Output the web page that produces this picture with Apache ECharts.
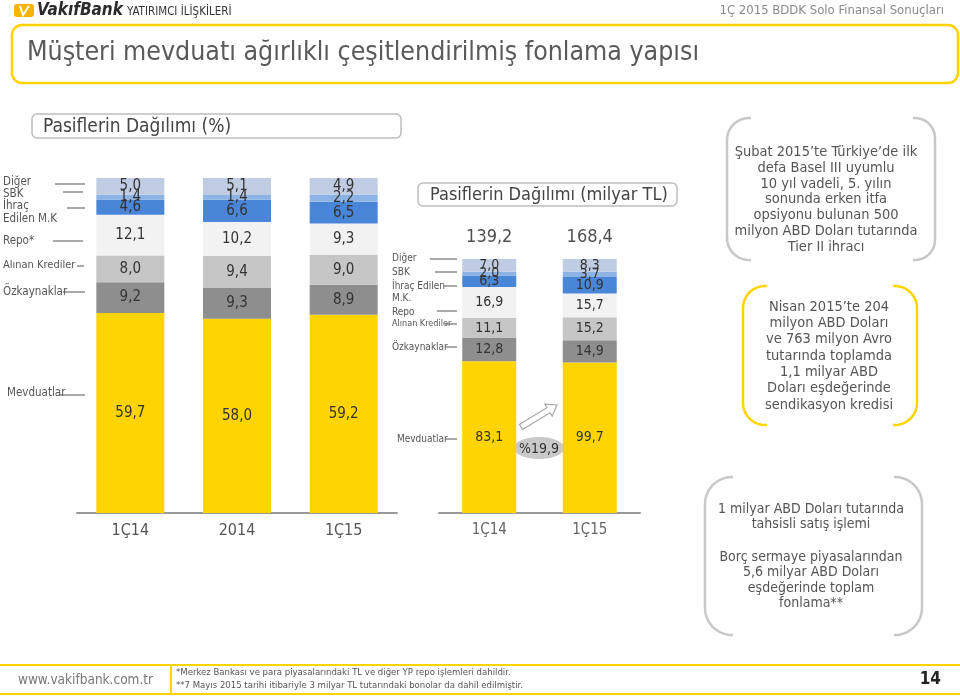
<!DOCTYPE html>
<html><head><meta charset="utf-8">
<script src="https://cdn.jsdelivr.net/npm/echarts@6/dist/echarts.min.js"></script>
<style>html,body{margin:0;padding:0;background:#fff;}#c{width:960px;height:697px;}</style>
</head><body><div id="c"></div>
<script>
// ---- data ----
const catsPct = ['1Ç14', '2014', '1Ç15'];
const pctMevduat = [59.7, 58.0, 59.2];
const pctOzkaynak = [9.2, 9.3, 8.9];
const pctKredi = [8.0, 9.4, 9.0];
const pctRepo = [12.1, 10.2, 9.3];
const pctIhrac = [4.6, 6.6, 6.5];
const pctSbk = [1.4, 1.4, 2.2];
const pctDiger = [5.0, 5.1, 4.9];

const catsTL = ['1Ç14', '1Ç15'];
const tlMevduat = [83.1, 99.7];
const tlOzkaynak = [12.8, 14.9];
const tlKredi = [11.1, 15.2];
const tlRepo = [16.9, 15.7];
const tlIhrac = [6.3, 10.9];
const tlSbk = [2.0, 3.7];
const tlDiger = [7.0, 8.3];
const growthText = '%19,9';

const seriesNames = ['Mevduatlar', 'Özkaynaklar', 'Alınan Krediler', 'Repo', 'İhraç Edilen M.K.', 'SBK', 'Diğer'];

// ---- styles ----
const FONT = '"Liberation Sans Narrow", "DejaVu Sans Condensed", "Open Sans", sans-serif';
const colors = ['#FFD400', '#8E8E8E', '#C6C6C6', '#F2F2F2', '#4A86D8', '#8DB3E5', '#BFCCE2'];
const YEL = '#FFD200';
const fmt = v => v.toFixed(1).replace('.', ',');

const pctSets = [pctMevduat, pctOzkaynak, pctKredi, pctRepo, pctIhrac, pctSbk, pctDiger];
const tlSets = [tlMevduat, tlOzkaynak, tlKredi, tlRepo, tlIhrac, tlSbk, tlDiger];
const tlTotals = catsTL.map((c, i) => tlSets.reduce((s, arr) => s + arr[i], 0));

const series = [];
pctSets.forEach((arr, k) => {
  series.push({
    name: seriesNames[k], type: 'bar', stack: 'pct', xAxisIndex: 0, yAxisIndex: 0,
    barWidth: 68, itemStyle: { color: colors[k] },
    label: { show: true, position: 'inside', color: '#333', fontSize: 15, fontFamily: FONT, formatter: p => fmt(p.value) },
    data: arr
  });
});
tlSets.forEach((arr, k) => {
  series.push({
    name: seriesNames[k], type: 'bar', stack: 'tl', xAxisIndex: 1, yAxisIndex: 1,
    barWidth: 54, itemStyle: { color: colors[k] },
    label: { show: true, position: 'inside', color: '#333', fontSize: 14, fontFamily: FONT, formatter: p => fmt(p.data.raw) },
    data: arr.map((v, i) => ({ value: v / tlTotals[i] * 100, raw: v }))
  });
});
series.push({
  type: 'scatter', xAxisIndex: 1, yAxisIndex: 1, symbolSize: 0.1, itemStyle: { color: 'transparent' },
  label: { show: true, position: 'top', distance: 13, color: '#222', fontSize: 18, fontFamily: FONT, formatter: p => fmt(p.data.raw) },
  data: tlTotals.map((t, i) => ({ value: [i, 100], raw: t }))
});

// ---- graphic helpers ----
function txt(x, y, text, size, color, align, weight, style) {
  return { type: 'text', x: x, y: y, silent: true, style: {
    text: text, fontSize: size, fontFamily: FONT, fontWeight: weight || 'normal', fontStyle: style || 'normal', fill: color,
    align: align || 'left', textAlign: align || 'left', verticalAlign: 'middle', textVerticalAlign: 'middle' } };
}
function ln(x1, y1, x2, y2, color, w) {
  return { type: 'line', silent: true, shape: { x1: x1, y1: y1, x2: x2, y2: y2 }, style: { stroke: color, lineWidth: w || 1 } };
}
function bracket(xEdge, y1, y2, r, ext, dir, color) {
  const pts = [[xEdge + dir * (r + ext), y1]];
  for (let i = 0; i <= 10; i++) {
    const t = (-90 - 90 * i / 10) * Math.PI / 180;
    pts.push([xEdge + dir * (r + r * Math.cos(t)), y1 + r + r * Math.sin(t)]);
  }
  for (let i = 0; i <= 10; i++) {
    const t = (180 - 90 * i / 10) * Math.PI / 180;
    pts.push([xEdge + dir * (r + r * Math.cos(t)), y2 - r + r * Math.sin(t)]);
  }
  pts.push([xEdge + dir * (r + ext), y2]);
  return { type: 'polyline', silent: true, shape: { points: pts }, style: { stroke: color, lineWidth: 2.5, fill: null } };
}
function textBlock(cx, y0, lh, lines, size, color, weight) {
  return lines.map((l, i) => txt(cx, y0 + i * lh, l, size, color, 'center', weight));
}
function arrow(x0, y0, x1, y1) {
  const dx = x1 - x0, dy = y1 - y0, L = Math.hypot(dx, dy);
  const ux = dx / L, uy = dy / L, nx = -uy, ny = ux;
  const sw = 3, hw = 7, hl = 10;
  const bx = x1 - ux * hl, by = y1 - uy * hl;
  return [[x0 + nx * sw, y0 + ny * sw], [bx + nx * sw, by + ny * sw], [bx + nx * hw, by + ny * hw], [x1, y1],
          [bx - nx * hw, by - ny * hw], [bx - nx * sw, by - ny * sw], [x0 - nx * sw, y0 - ny * sw]];
}

const G = '#555';
const graphics = [
  // header
  { type: 'rect', silent: true, shape: { x: 14, y: 4, width: 20, height: 13, r: 3 }, style: { fill: '#F7B500' } },
  { type: 'polyline', silent: true, shape: { points: [[20, 6], [23, 15], [29, 6]] }, style: { stroke: '#fff', lineWidth: 2, fill: null } },
  txt(37, 11, 'VakıfBank', 17, '#2b2b2b', 'left', 'bold', 'italic'),
  txt(127, 12, 'YATIRIMCI İLİŞKİLERİ', 11.5, '#333'),
  txt(944, 11, '1Ç 2015 BDDK Solo Finansal Sonuçları', 13, '#8a8a8a', 'right'),
  { type: 'rect', silent: true, shape: { x: 12, y: 25, width: 946, height: 58, r: 10 }, style: { stroke: YEL, lineWidth: 2.5, fill: null } },
  txt(27, 53, 'Müşteri mevduatı ağırlıklı çeşitlendirilmiş fonlama yapısı', 26.5, '#5a5a5a'),
  // left chart title
  { type: 'rect', silent: true, shape: { x: 32, y: 114, width: 369, height: 24, r: 5 }, style: { stroke: '#bdbdbd', lineWidth: 1.5, fill: null } },
  txt(43, 127, 'Pasiflerin Dağılımı (%)', 19, '#444'),
  // left labels
  txt(3, 182, 'Diğer', 11.5, G), ln(55, 184, 85, 184, '#555'),
  txt(3, 194, 'SBK', 11.5, G), ln(63, 192, 83, 192, '#555'),
  txt(3, 206, 'İhraç', 11.5, G), ln(67, 208, 85, 208, '#555'),
  txt(3, 219, 'Edilen M.K', 11.5, G),
  txt(3, 241, 'Repo*', 11.5, G), ln(53, 241, 83, 241, '#555'),
  txt(3, 265, 'Alınan Krediler', 11, G), ln(77, 266, 84, 266, '#555'),
  txt(3, 292, 'Özkaynaklar', 11.5, G), ln(63, 292, 85, 292, '#555'),
  txt(7, 393, 'Mevduatlar', 11.5, G), ln(60, 395, 85, 395, '#555'),
  // middle chart title
  { type: 'rect', silent: true, shape: { x: 418, y: 183, width: 259, height: 23, r: 5 }, style: { stroke: '#bdbdbd', lineWidth: 1.5, fill: null } },
  txt(430, 195, 'Pasiflerin Dağılımı (milyar TL)', 18, '#444'),
  // middle labels
  txt(392, 258, 'Diğer', 10, G), ln(430, 259, 457, 259, '#555'),
  txt(392, 272, 'SBK', 10, G), ln(435, 272, 457, 272, '#555'),
  txt(392, 286, 'İhraç Edilen', 10, G), ln(444, 286, 457, 286, '#555'),
  txt(392, 298, 'M.K.', 10, G),
  txt(392, 312, 'Repo', 10, G), ln(437, 311, 457, 311, '#555'),
  txt(392, 324, 'Alınan Krediler', 9, G), ln(445, 324, 457, 324, '#555'),
  txt(392, 347, 'Özkaynaklar', 10, G), ln(445, 347, 457, 347, '#555'),
  txt(397, 439, 'Mevduatlar', 10, G), ln(445, 439, 457, 439, '#555'),
  // growth arrow
  { type: 'polygon', silent: true, shape: { points: arrow(521, 427, 557, 405) }, style: { fill: '#fff', stroke: '#a8a8a8', lineWidth: 1.2 } },
  { type: 'ellipse', silent: true, shape: { cx: 539, cy: 448, rx: 25, ry: 11 }, style: { fill: '#C9C9C9' } },
  txt(539, 449, growthText, 14, '#333', 'center'),
  // right boxes
  bracket(727, 118, 260, 22, 2, 1, '#C8C8C8'), bracket(935, 118, 260, 20, 2, -1, '#C8C8C8'),
  bracket(743, 286, 425, 22, 2, 1, '#FFD400'), bracket(917, 286, 425, 22, 2, -1, '#FFD400'),
  bracket(705, 477, 635, 27, 1, 1, '#C8C8C8'), bracket(922, 477, 635, 27, 1, -1, '#C8C8C8'),
  ...textBlock(826, 152, 15.9, ['Şubat 2015’te Türkiye’de ilk', 'defa Basel III uyumlu', '10 yıl vadeli, 5. yılın', 'sonunda erken itfa', 'opsiyonu bulunan 500', 'milyon ABD Doları tutarında', 'Tier II ihracı'], 14.5, '#555', 'normal'),
  ...textBlock(829, 307, 16.3, ['Nisan 2015’te 204', 'milyon ABD Doları', 've 763 milyon Avro', 'tutarında toplamda', '1,1 milyar ABD', 'Doları eşdeğerinde', 'sendikasyon kredisi'], 14.5, '#555', 'normal'),
  ...textBlock(811, 509, 15.5, ['1 milyar ABD Doları tutarında', 'tahsisli satış işlemi'], 14, '#555'),
  ...textBlock(811, 557, 15.5, ['Borç sermaye piyasalarından', '5,6 milyar ABD Doları', 'eşdeğerinde toplam', 'fonlama**'], 14, '#555'),
  // footer
  ln(0, 665, 960, 665, YEL, 2), ln(0, 694, 960, 694, YEL, 2), ln(171, 665, 171, 694, YEL, 2),
  txt(18, 680, 'www.vakifbank.com.tr', 13.5, '#777'),
  txt(176, 673, '*Merkez Bankası ve para piyasalarındaki TL ve diğer YP repo işlemleri dahildir.', 9.5, '#555'),
  txt(176, 686, '**7 Mayıs 2015 tarihi itibariyle 3 milyar TL tutarındaki bonolar da dahil edilmiştir.', 9.5, '#555'),
  txt(941, 680, '14', 17, '#222', 'right', 'bold')
];

const chart = echarts.init(document.getElementById('c'), null, { renderer: 'canvas' });
chart.setOption({
  animation: false,
  textStyle: { fontFamily: FONT },
  grid: [
    { left: 77, width: 320, top: 178, height: 335 },
    { left: 439, width: 201, top: 259, height: 254 }
  ],
  xAxis: [
    { type: 'category', gridIndex: 0, data: catsPct, axisTick: { show: false },
      axisLine: { lineStyle: { color: '#999', width: 2 } },
      axisLabel: { color: '#555', fontSize: 16, fontFamily: FONT, margin: 10 } },
    { type: 'category', gridIndex: 1, data: catsTL, axisTick: { show: false },
      axisLine: { lineStyle: { color: '#999', width: 2 } },
      axisLabel: { color: '#666', fontSize: 15, fontFamily: FONT, margin: 10 } }
  ],
  yAxis: [
    { type: 'value', gridIndex: 0, min: 0, max: 100, show: false },
    { type: 'value', gridIndex: 1, min: 0, max: 100, show: false }
  ],
  series: series,
  graphic: graphics
});
</script></body></html>
